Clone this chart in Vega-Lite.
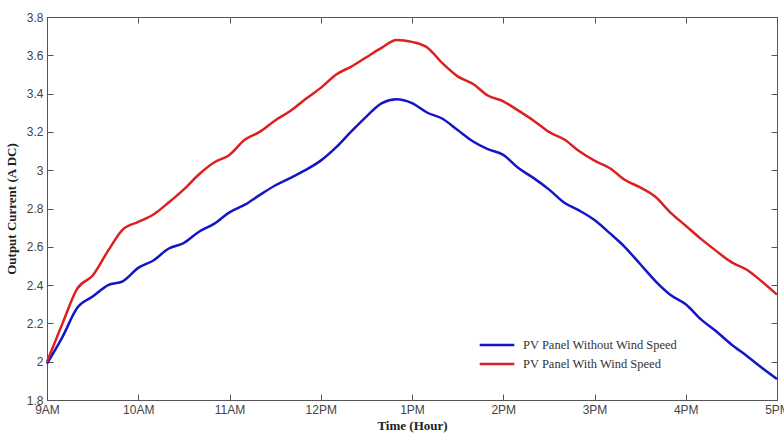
{
  "$schema": "https://vega.github.io/schema/vega-lite/v6.json",
  "width": 730,
  "height": 383,
  "autosize": "none",
  "padding": {"left": 47, "top": 17, "right": 7, "bottom": 37},
  "background": "white",
  "config": {
    "view": {"stroke": "#555", "strokeWidth": 1},
    "axis": {"grid": false, "domainColor": "#555", "tickColor": "#555", "labelFont": "Liberation Sans", "labelFontSize": 12, "labelColor": "#444", "titleFont": "Liberation Serif", "titleFontSize": 13, "titleFontWeight": "bold", "titleColor": "#222"}
  },
  "datasets": {
    "pv": [
      {"t": 9.0, "s": "PV Panel Without Wind Speed", "v": 1.99},
      {"t": 9.17, "s": "PV Panel Without Wind Speed", "v": 2.13},
      {"t": 9.33, "s": "PV Panel Without Wind Speed", "v": 2.28},
      {"t": 9.5, "s": "PV Panel Without Wind Speed", "v": 2.34},
      {"t": 9.67, "s": "PV Panel Without Wind Speed", "v": 2.40},
      {"t": 9.83, "s": "PV Panel Without Wind Speed", "v": 2.42},
      {"t": 10.0, "s": "PV Panel Without Wind Speed", "v": 2.49},
      {"t": 10.17, "s": "PV Panel Without Wind Speed", "v": 2.53},
      {"t": 10.33, "s": "PV Panel Without Wind Speed", "v": 2.59},
      {"t": 10.5, "s": "PV Panel Without Wind Speed", "v": 2.62},
      {"t": 10.67, "s": "PV Panel Without Wind Speed", "v": 2.68},
      {"t": 10.83, "s": "PV Panel Without Wind Speed", "v": 2.72},
      {"t": 11.0, "s": "PV Panel Without Wind Speed", "v": 2.78},
      {"t": 11.17, "s": "PV Panel Without Wind Speed", "v": 2.82},
      {"t": 11.33, "s": "PV Panel Without Wind Speed", "v": 2.87},
      {"t": 11.5, "s": "PV Panel Without Wind Speed", "v": 2.92},
      {"t": 11.67, "s": "PV Panel Without Wind Speed", "v": 2.96},
      {"t": 11.83, "s": "PV Panel Without Wind Speed", "v": 3.00},
      {"t": 12.0, "s": "PV Panel Without Wind Speed", "v": 3.05},
      {"t": 12.17, "s": "PV Panel Without Wind Speed", "v": 3.12},
      {"t": 12.33, "s": "PV Panel Without Wind Speed", "v": 3.20},
      {"t": 12.5, "s": "PV Panel Without Wind Speed", "v": 3.28},
      {"t": 12.67, "s": "PV Panel Without Wind Speed", "v": 3.35},
      {"t": 12.83, "s": "PV Panel Without Wind Speed", "v": 3.37},
      {"t": 13.0, "s": "PV Panel Without Wind Speed", "v": 3.35},
      {"t": 13.17, "s": "PV Panel Without Wind Speed", "v": 3.30},
      {"t": 13.33, "s": "PV Panel Without Wind Speed", "v": 3.27},
      {"t": 13.5, "s": "PV Panel Without Wind Speed", "v": 3.21},
      {"t": 13.67, "s": "PV Panel Without Wind Speed", "v": 3.15},
      {"t": 13.83, "s": "PV Panel Without Wind Speed", "v": 3.11},
      {"t": 14.0, "s": "PV Panel Without Wind Speed", "v": 3.08},
      {"t": 14.17, "s": "PV Panel Without Wind Speed", "v": 3.01},
      {"t": 14.33, "s": "PV Panel Without Wind Speed", "v": 2.96},
      {"t": 14.5, "s": "PV Panel Without Wind Speed", "v": 2.90},
      {"t": 14.67, "s": "PV Panel Without Wind Speed", "v": 2.83},
      {"t": 14.83, "s": "PV Panel Without Wind Speed", "v": 2.79},
      {"t": 15.0, "s": "PV Panel Without Wind Speed", "v": 2.74},
      {"t": 15.17, "s": "PV Panel Without Wind Speed", "v": 2.67},
      {"t": 15.33, "s": "PV Panel Without Wind Speed", "v": 2.60},
      {"t": 15.5, "s": "PV Panel Without Wind Speed", "v": 2.51},
      {"t": 15.67, "s": "PV Panel Without Wind Speed", "v": 2.42},
      {"t": 15.83, "s": "PV Panel Without Wind Speed", "v": 2.35},
      {"t": 16.0, "s": "PV Panel Without Wind Speed", "v": 2.30},
      {"t": 16.17, "s": "PV Panel Without Wind Speed", "v": 2.22},
      {"t": 16.33, "s": "PV Panel Without Wind Speed", "v": 2.16},
      {"t": 16.5, "s": "PV Panel Without Wind Speed", "v": 2.09},
      {"t": 16.67, "s": "PV Panel Without Wind Speed", "v": 2.03},
      {"t": 16.83, "s": "PV Panel Without Wind Speed", "v": 1.97},
      {"t": 17.0, "s": "PV Panel Without Wind Speed", "v": 1.91},
      {"t": 9.0, "s": "PV Panel With Wind Speed", "v": 2.00},
      {"t": 9.17, "s": "PV Panel With Wind Speed", "v": 2.20},
      {"t": 9.33, "s": "PV Panel With Wind Speed", "v": 2.38},
      {"t": 9.5, "s": "PV Panel With Wind Speed", "v": 2.45},
      {"t": 9.67, "s": "PV Panel With Wind Speed", "v": 2.58},
      {"t": 9.83, "s": "PV Panel With Wind Speed", "v": 2.69},
      {"t": 10.0, "s": "PV Panel With Wind Speed", "v": 2.73},
      {"t": 10.17, "s": "PV Panel With Wind Speed", "v": 2.77},
      {"t": 10.33, "s": "PV Panel With Wind Speed", "v": 2.83},
      {"t": 10.5, "s": "PV Panel With Wind Speed", "v": 2.90},
      {"t": 10.67, "s": "PV Panel With Wind Speed", "v": 2.98},
      {"t": 10.83, "s": "PV Panel With Wind Speed", "v": 3.04},
      {"t": 11.0, "s": "PV Panel With Wind Speed", "v": 3.08},
      {"t": 11.17, "s": "PV Panel With Wind Speed", "v": 3.16},
      {"t": 11.33, "s": "PV Panel With Wind Speed", "v": 3.20},
      {"t": 11.5, "s": "PV Panel With Wind Speed", "v": 3.26},
      {"t": 11.67, "s": "PV Panel With Wind Speed", "v": 3.31},
      {"t": 11.83, "s": "PV Panel With Wind Speed", "v": 3.37},
      {"t": 12.0, "s": "PV Panel With Wind Speed", "v": 3.43},
      {"t": 12.17, "s": "PV Panel With Wind Speed", "v": 3.50},
      {"t": 12.33, "s": "PV Panel With Wind Speed", "v": 3.54},
      {"t": 12.5, "s": "PV Panel With Wind Speed", "v": 3.59},
      {"t": 12.67, "s": "PV Panel With Wind Speed", "v": 3.64},
      {"t": 12.83, "s": "PV Panel With Wind Speed", "v": 3.68},
      {"t": 13.0, "s": "PV Panel With Wind Speed", "v": 3.67},
      {"t": 13.17, "s": "PV Panel With Wind Speed", "v": 3.64},
      {"t": 13.33, "s": "PV Panel With Wind Speed", "v": 3.56},
      {"t": 13.5, "s": "PV Panel With Wind Speed", "v": 3.49},
      {"t": 13.67, "s": "PV Panel With Wind Speed", "v": 3.45},
      {"t": 13.83, "s": "PV Panel With Wind Speed", "v": 3.39},
      {"t": 14.0, "s": "PV Panel With Wind Speed", "v": 3.36},
      {"t": 14.17, "s": "PV Panel With Wind Speed", "v": 3.31},
      {"t": 14.33, "s": "PV Panel With Wind Speed", "v": 3.26},
      {"t": 14.5, "s": "PV Panel With Wind Speed", "v": 3.20},
      {"t": 14.67, "s": "PV Panel With Wind Speed", "v": 3.16},
      {"t": 14.83, "s": "PV Panel With Wind Speed", "v": 3.10},
      {"t": 15.0, "s": "PV Panel With Wind Speed", "v": 3.05},
      {"t": 15.17, "s": "PV Panel With Wind Speed", "v": 3.01},
      {"t": 15.33, "s": "PV Panel With Wind Speed", "v": 2.95},
      {"t": 15.5, "s": "PV Panel With Wind Speed", "v": 2.91},
      {"t": 15.67, "s": "PV Panel With Wind Speed", "v": 2.86},
      {"t": 15.83, "s": "PV Panel With Wind Speed", "v": 2.78},
      {"t": 16.0, "s": "PV Panel With Wind Speed", "v": 2.71},
      {"t": 16.17, "s": "PV Panel With Wind Speed", "v": 2.64},
      {"t": 16.33, "s": "PV Panel With Wind Speed", "v": 2.58},
      {"t": 16.5, "s": "PV Panel With Wind Speed", "v": 2.52},
      {"t": 16.67, "s": "PV Panel With Wind Speed", "v": 2.48},
      {"t": 16.83, "s": "PV Panel With Wind Speed", "v": 2.42},
      {"t": 17.0, "s": "PV Panel With Wind Speed", "v": 2.35}
    ]
  },
  "data": {"name": "pv"},
  "layer": [
    {
      "mark": {"type": "line", "strokeWidth": 2.5, "interpolate": "monotone"},
      "encoding": {
        "x": {"field": "t", "type": "quantitative", "scale": {"domain": [9, 17], "nice": false},
          "axis": {"orient": "bottom", "values": [9, 10, 11, 12, 13, 14, 15, 16, 17], "tickSize": -6, "labelPadding": 10, "labelBound": false, "labelFlush": false, "labelOverlap": false,
            "labelExpr": "datum.value == 12 ? '12PM' : (datum.value < 12 ? datum.value + 'AM' : (datum.value - 12) + 'PM')",
            "title": "Time (Hour)", "titlePadding": 4}},
        "y": {"field": "v", "type": "quantitative", "scale": {"domain": [1.8, 3.8], "nice": false, "zero": false},
          "axis": {"orient": "left", "values": [1.8, 2, 2.2, 2.4, 2.6, 2.8, 3, 3.2, 3.4, 3.6, 3.8], "format": "~g", "tickSize": -6, "labelPadding": 10, "labelOverlap": false, "labelBound": false, "labelFlush": false,
            "title": "Output Current (A DC)", "titlePadding": 8}},
        "color": {"field": "s", "type": "nominal",
          "scale": {"domain": ["PV Panel Without Wind Speed", "PV Panel With Wind Speed"], "range": ["#1414c8", "#dc2020"]},
          "legend": {"title": null, "orient": "none", "legendX": 440, "legendY": 318, "symbolType": "M-2,0H2", "symbolSize": 300, "symbolStrokeWidth": 2.5, "labelFont": "Liberation Serif", "labelFontSize": 12.5, "labelColor": "#333", "rowPadding": 2, "labelOffset": 16}}
      }
    },
    {
      "mark": {"type": "line", "strokeOpacity": 0},
      "encoding": {
        "x": {"field": "t", "type": "quantitative",
          "axis": {"orient": "top", "values": [9, 10, 11, 12, 13, 14, 15, 16, 17], "tickSize": -6, "labels": false, "title": null}},
        "y": {"field": "v", "type": "quantitative",
          "axis": {"orient": "right", "values": [1.8, 2, 2.2, 2.4, 2.6, 2.8, 3, 3.2, 3.4, 3.6, 3.8], "tickSize": -6, "labels": false, "title": null}},
        "detail": {"field": "s"}
      }
    }
  ],
  "resolve": {"axis": {"x": "independent", "y": "independent"}}
}
